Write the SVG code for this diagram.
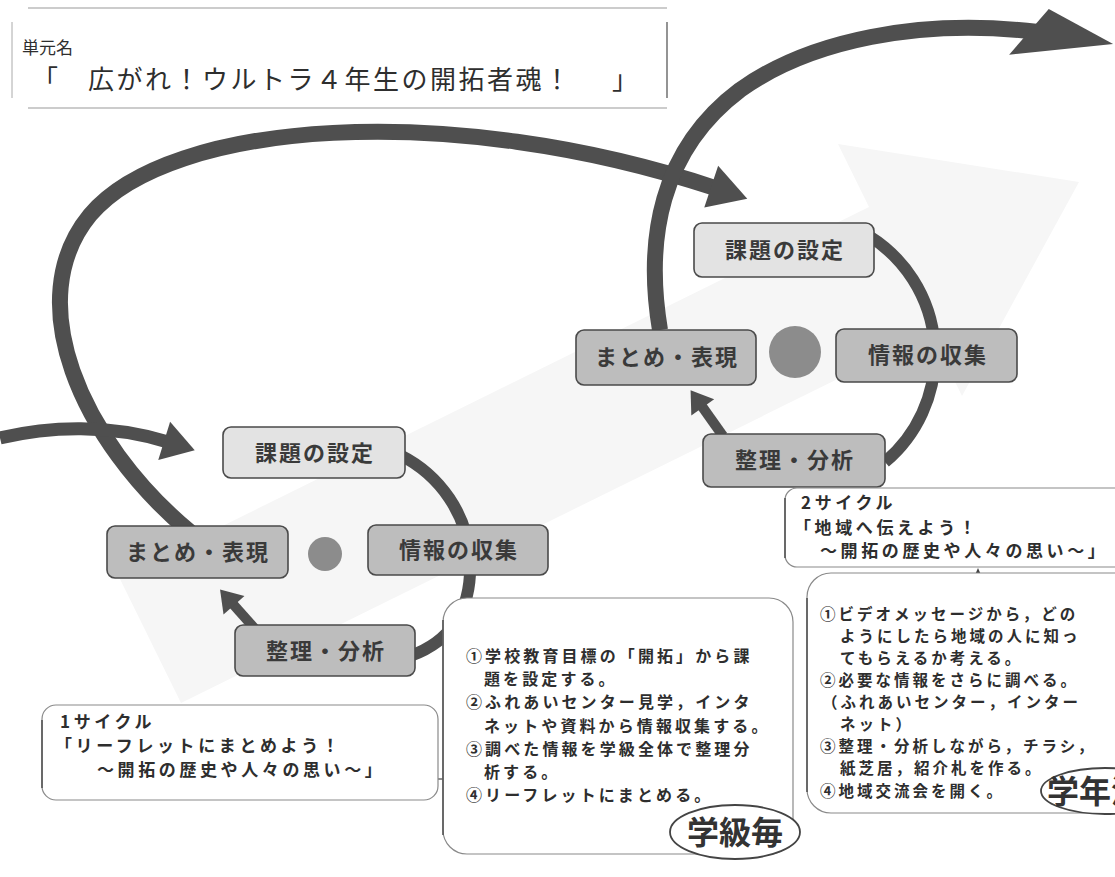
<svg xmlns="http://www.w3.org/2000/svg" width="1115" height="877" viewBox="0 0 1115 877">
<style>
text{font-family:"Noto Sans CJK JP","Noto Sans CJK SC",sans-serif;fill:#2e2e2e}
.lbl{font-size:22px;font-weight:700;letter-spacing:2px;text-anchor:middle;fill:#3a3a3a}
.box-a{fill:#e3e3e3;stroke:#4a4a4a;stroke-width:1.6}
.box-b{fill:#bdbdbd;stroke:#4a4a4a;stroke-width:1.6}
.dot{fill:#8c8c8c}
.band{fill:none;stroke:#4f4f4f;stroke-linecap:butt}
.info{fill:#fff;stroke:#8a8a8a;stroke-width:1.2}
.edge{stroke:#555;stroke-width:1.6}
.item{font-size:16px;font-weight:700;letter-spacing:3.1px}
.item2{font-size:15.5px;font-weight:700;letter-spacing:3px}
.cap{font-size:17px;font-weight:700;letter-spacing:3.6px}
.badge{fill:#fff;stroke:#444;stroke-width:1.8}
.badgeT{font-size:32px;font-weight:700;fill:#333}
.thin{stroke:#444;stroke-width:1.2;fill:none}
</style>
<defs>
<marker id="hHuge" markerUnits="userSpaceOnUse" markerWidth="110" markerHeight="60" viewBox="-30 -30 110 60" refX="0" refY="0" orient="auto" overflow="visible"><path d="M8,-24 L76,3 L-26,26 Z" fill="#4f4f4f"/></marker>
<marker id="hBig" markerUnits="userSpaceOnUse" markerWidth="50" markerHeight="50" viewBox="-10 -25 50 50" refX="0" refY="0" orient="auto" overflow="visible"><path d="M-4,-22 L34,0 L-4,22 Z" fill="#4f4f4f"/></marker>
<marker id="hMed" markerUnits="userSpaceOnUse" markerWidth="40" markerHeight="44" viewBox="-8 -22 40 44" refX="0" refY="0" orient="auto" overflow="visible"><path d="M-4,-20 L28,0 L-4,20 Z" fill="#4f4f4f"/></marker>
<marker id="hSmall" markerUnits="userSpaceOnUse" markerWidth="30" markerHeight="32" viewBox="-6 -16 30 32" refX="0" refY="0" orient="auto" overflow="visible"><path d="M-3,-14 L18,0 L-3,14 Z" fill="#4f4f4f"/></marker>
<marker id="hTiny" markerUnits="userSpaceOnUse" markerWidth="12" markerHeight="10" viewBox="-2 -5 12 10" refX="0" refY="0" orient="auto" overflow="visible"><path d="M0,-3.5 L8,0 L0,3.5 Z" fill="#444"/></marker>
</defs>
<rect width="1115" height="877" fill="#fff"/>
<!-- faint background arrow -->
<polygon points="119,577 869,207 838,144 1079,182 962,396 931,333 181,703" fill="#f6f6f6"/>

<!-- title -->
<g id="title">
<line x1="28" y1="8" x2="667" y2="8" stroke="#9a9a9a" stroke-width="1.2"/>
<line x1="28" y1="108" x2="667" y2="108" stroke="#9a9a9a" stroke-width="1.2"/>
<line x1="12" y1="22" x2="12" y2="98" stroke="#aaa" stroke-width="1"/>
<line x1="667" y1="22" x2="667" y2="98" stroke="#666" stroke-width="1.4"/>
<text x="22" y="54" font-size="17">単元名</text>
<text x="32" y="89" font-size="26">「</text>
<text x="88" y="89" font-size="26" letter-spacing="2.5">広がれ！ウルトラ４年生の開拓者魂！</text>
<text x="612" y="89" font-size="26">」</text>
</g>

<!-- connectors -->
<g id="connectors">
<path class="band" stroke-width="16" d="M190,532 C 80,440 20,300 90,215 C 170,120 450,100 715,188" marker-end="url(#hBig)"/>
<path class="band" stroke-width="13" d="M0,438 C 50,426 110,424 168,442" marker-end="url(#hMed)"/>
<path class="band" stroke-width="16" d="M660,330 C 645,240 660,150 740,90 C 810,40 920,18 1038,32" marker-end="url(#hHuge)"/>
<path class="band" stroke-width="12" d="M400,455 C 440,475 468,515 470,560 C 472,605 455,640 410,656"/>
<path class="band" stroke-width="10" d="M256,630 L232,603" marker-end="url(#hSmall)"/>
<path class="band" stroke-width="12" d="M869,236 A140,140 0 0 1 885,462"/>
<path class="band" stroke-width="10" d="M723,436 L701,405" marker-end="url(#hSmall)"/>
<line class="thin" x1="443" y1="779" x2="414" y2="779" marker-end="url(#hTiny)"/>
<line class="thin" x1="978" y1="598" x2="978" y2="576" marker-end="url(#hTiny)"/>
</g>

<!-- cycle 1 -->
<g id="c1-kadai"><rect class="box-a" x="223" y="427" width="182" height="51" rx="8"/><text class="lbl" x="315" y="461">課題の設定</text></g>
<g id="c1-matome"><rect class="box-b" x="107" y="526" width="181" height="52" rx="8"/><text class="lbl" x="198" y="560">まとめ・表現</text></g>
<g id="c1-dot"><circle class="dot" cx="325" cy="554" r="17"/></g>
<g id="c1-joho"><rect class="box-b" x="368" y="525" width="180" height="50" rx="8"/><text class="lbl" x="459" y="558">情報の収集</text></g>
<g id="c1-seiri"><rect class="box-b" x="235" y="625" width="180" height="51" rx="8"/><text class="lbl" x="326" y="659">整理・分析</text></g>

<!-- cycle 2 -->
<g id="c2-kadai"><rect class="box-a" x="694" y="223" width="180" height="54" rx="8"/><text class="lbl" x="785" y="258">課題の設定</text></g>
<g id="c2-matome"><rect class="box-b" x="576" y="330" width="180" height="55" rx="8"/><text class="lbl" x="667" y="365">まとめ・表現</text></g>
<g id="c2-dot"><circle class="dot" cx="795" cy="352" r="26"/></g>
<g id="c2-joho"><rect class="box-b" x="836" y="329" width="181" height="53" rx="8"/><text class="lbl" x="928" y="363">情報の収集</text></g>
<g id="c2-seiri"><rect class="box-b" x="703" y="434" width="182" height="53" rx="8"/><text class="lbl" x="795" y="468">整理・分析</text></g>

<!-- cycle 1 caption -->
<g id="cycle1-box">
<rect class="info" x="42" y="705" width="396" height="95" rx="14"/>
<line class="edge" x1="42" y1="720" x2="42" y2="788"/>
<text class="cap" x="60" y="728">1サイクル</text>
<text class="cap" x="55" y="752">「リーフレットにまとめよう！</text>
<text class="cap" x="97" y="776">～開拓の歴史や人々の思い～」</text>
</g>

<!-- class activity box -->
<g id="class-box">
<rect class="info" x="443" y="598" width="350" height="256" rx="24"/>
<line class="edge" x1="443" y1="620" x2="443" y2="835"/>
<text class="item" x="466" y="662">①学校教育目標の「開拓」から課</text>
<text class="item" x="484" y="685">題を設定する。</text>
<text class="item" x="466" y="708">②ふれあいセンター見学，インタ</text>
<text class="item" x="484" y="732">ネットや資料から情報収集する。</text>
<text class="item" x="466" y="755">③調べた情報を学級全体で整理分</text>
<text class="item" x="484" y="778">析する。</text>
<text class="item" x="466" y="801">④リーフレットにまとめる。</text>
<ellipse class="badge" cx="735" cy="832" rx="65" ry="27"/>
<text class="badgeT" x="735" y="844" text-anchor="middle">学級毎</text>
</g>

<!-- cycle 2 caption -->
<g id="cycle2-box">
<rect class="info" x="785" y="488" width="360" height="79" rx="12"/>
<line class="edge" x1="785" y1="498" x2="785" y2="558"/>
<text class="cap" x="801" y="509">2サイクル</text>
<text class="cap" x="794" y="534">「地域へ伝えよう！</text>
<text class="cap" x="820" y="557">～開拓の歴史や人々の思い～」</text>
</g>

<!-- grade activity box -->
<g id="grade-box">
<rect class="info" x="807" y="573" width="340" height="240" rx="24"/>
<line class="edge" x1="807" y1="598" x2="807" y2="792"/>
<text class="item2" x="820" y="620">①ビデオメッセージから，どの</text>
<text class="item2" x="840" y="642">ようにしたら地域の人に知っ</text>
<text class="item2" x="840" y="664">てもらえるか考える。</text>
<text class="item2" x="820" y="686">②必要な情報をさらに調べる。</text>
<text class="item2" x="822" y="708">（ふれあいセンター，インター</text>
<text class="item2" x="840" y="730">ネット）</text>
<text class="item2" x="820" y="752">③整理・分析しながら，チラシ，</text>
<text class="item2" x="840" y="774">紙芝居，紹介札を作る。</text>
<text class="item2" x="820" y="797">④地域交流会を開く。</text>
<ellipse class="badge" cx="1105" cy="791" rx="64" ry="23"/>
<text class="badgeT" x="1047" y="803">学年混</text>
</g>
</svg>
